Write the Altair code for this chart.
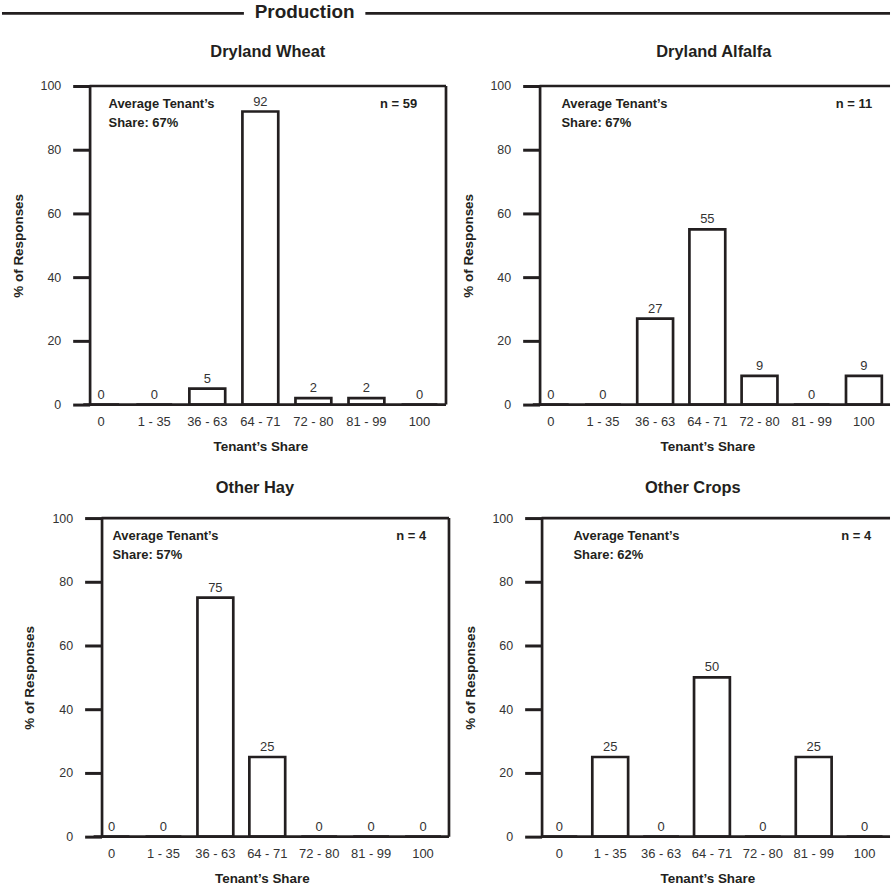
import altair as alt
import pandas as pd

# ---- data -------------------------------------------------------------
categories = ["0", "1 - 35", "36 - 63", "64 - 71", "72 - 80", "81 - 99", "100"]
dryland_wheat = [0, 0, 5, 92, 2, 2, 0]
dryland_alfalfa = [0, 0, 27, 55, 9, 0, 9]
other_hay = [0, 0, 75, 25, 0, 0, 0]
other_crops = [0, 25, 0, 50, 0, 25, 0]

panel_titles = ["Dryland Wheat", "Dryland Alfalfa", "Other Hay", "Other Crops"]
average_share = [67, 67, 57, 62]
n_responses = [59, 11, 4, 4]
y_ticks = [0, 20, 40, 60, 80, 100]

main_title = "Production"
x_title = "Tenant’s Share"
y_title = "% of Responses"

# ---- style -------------------------------------------------------------
FONT = "Liberation Sans"
INK = "#231f20"
GREY = "#333333"
LW = 2.7
H = 320

one = pd.DataFrame({"k": [0]})


def panel(values, title, avg, n, width, frame_left, right_border,
          title_x, title_y, avg_x, n_x, pad_outer=0, header=False):
    df = pd.DataFrame({"share": categories, "pct": values})
    x = alt.X("share:N", sort=categories,
              scale=alt.Scale(paddingInner=0, paddingOuter=pad_outer, align=1),
              axis=alt.Axis(title=x_title, domain=False))
    y = alt.Y("pct:Q", scale=alt.Scale(domain=[0, 100], nice=False),
              axis=alt.Axis(title=y_title, values=y_ticks, offset=-frame_left))
    bars = alt.Chart(df).mark_bar(size=36, fill="white", stroke=INK,
                                  strokeWidth=LW).encode(x=x, y=y)
    vals = alt.Chart(df).mark_text(baseline="alphabetic", dy=-6, fontSize=13,
                                   color=GREY, font=FONT).encode(
        x=alt.X("share:N", sort=categories), y="pct:Q", text="pct:Q")
    frame = alt.Chart(one).mark_rule(color=INK, strokeWidth=LW)
    layers = [
        bars, vals,
        frame.encode(x=alt.value(frame_left), x2=alt.value(width), y=alt.datum(100)),
        frame.encode(x=alt.value(frame_left), x2=alt.value(width), y=alt.datum(0)),
    ]
    if right_border:
        layers.append(frame.encode(x=alt.value(width), y=alt.value(0), y2=alt.value(H)))
    bold = dict(font=FONT, fontWeight="bold", color=INK, baseline="middle")
    layers.append(alt.Chart(one).mark_text(align="left", fontSize=13, **bold).encode(
        x=alt.value(avg_x), y=alt.datum(94.3), text=alt.value("Average Tenant’s")))
    layers.append(alt.Chart(one).mark_text(align="left", fontSize=13, **bold).encode(
        x=alt.value(avg_x), y=alt.datum(88.4), text=alt.value(f"Share: {avg}%")))
    layers.append(alt.Chart(one).mark_text(align="right", fontSize=13, **bold).encode(
        x=alt.value(n_x), y=alt.datum(94.5), text=alt.value(f"n = {n}")))
    layers.append(alt.Chart(one).mark_text(align="center", fontSize=16.5, **bold).encode(
        x=alt.value(title_x), y=alt.value(title_y), text=alt.value(title)))
    if header:
        layers.append(frame.encode(x=alt.value(-73), x2=alt.value(170), y=alt.value(-73)))
        layers.append(frame.encode(x=alt.value(292), x2=alt.value(819), y=alt.value(-73)))
        layers.append(alt.Chart(one).mark_text(align="center", fontSize=19, **bold).encode(
            x=alt.value(231), y=alt.value(-74), text=alt.value(main_title)))
    return alt.layer(*layers).properties(width=width, height=H)


tl = panel(dryland_wheat, panel_titles[0], average_share[0], n_responses[0],
           373, 15, True, 194, -34, 34, 344, header=True)
tr = panel(dryland_alfalfa, panel_titles[1], average_share[1], n_responses[1],
           367, 15, False, 190, -34, 37, 349)
bl = panel(other_hay, panel_titles[2], average_share[2], n_responses[2],
           376, 27, True, 181, -30, 38, 353, pad_outer=0.105)
br = panel(other_crops, panel_titles[3], average_share[3], n_responses[3],
           367, 17, False, 169, -30, 49, 348, pad_outer=0.091)

chart = alt.concat(tl, tr, bl, br, columns=2,
                   spacing={"row": 114, "column": 76}, bounds="flush").properties(
    padding={"left": 0, "top": 1.4, "right": 0, "bottom": 1}
).configure_view(stroke=None).configure_axis(
    grid=False, domainColor=INK, domainWidth=LW, tickColor=INK, tickWidth=3,
    labelFont=FONT, labelFontSize=12.5, labelColor=GREY,
    titleFont=FONT, titleFontSize=13.5, titleFontWeight="bold", titleColor=INK,
).configure_axisX(
    ticks=False, tickSize=0, labelAngle=0, labelPadding=11, titlePadding=11,
    labelFontSize=13,
).configure_axisY(
    tickSize=17, labelPadding=12, titlePadding=15,
)

chart.save("out.html", embed_options={"renderer": "svg", "actions": False})
